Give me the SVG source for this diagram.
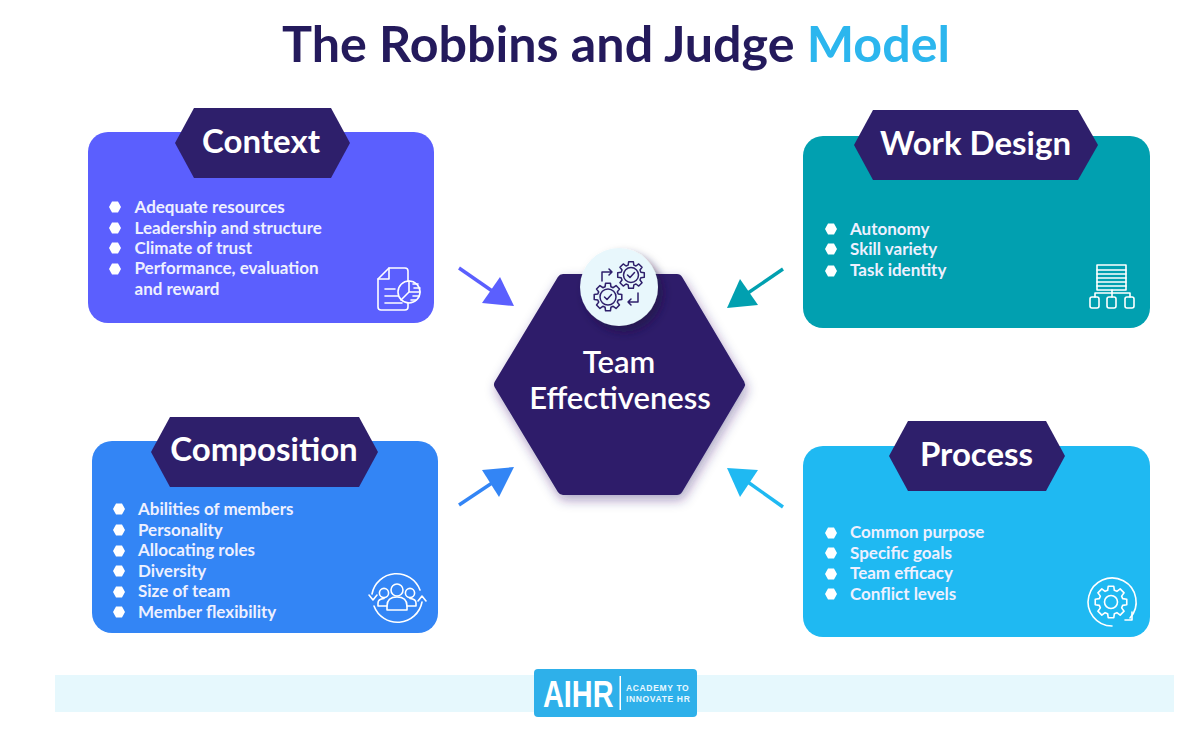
<svg xmlns="http://www.w3.org/2000/svg" xmlns:xlink="http://www.w3.org/1999/xlink" width="1200" height="756" viewBox="0 0 1200 756">
<style>
text{font-family:Lato,"Open Sans","Liberation Sans",sans-serif}
.title{font-size:50px;font-weight:700;fill:#241a5c}
.hd{font-size:33px;font-weight:700;fill:#fff;text-anchor:middle}
.li{font-size:17px;font-weight:700;fill:#eef0ff}
.mid{font-size:31px;font-weight:600;fill:#fff;text-anchor:middle}
.dark{fill:#2e1f6b}
.ic{fill:none;stroke:#fff;stroke-width:1.6;stroke-linecap:round;stroke-linejoin:round}
.ic2{fill:none;stroke:#2e1f6b;stroke-width:1.5;stroke-linecap:round;stroke-linejoin:round}
.ln{fill:none;stroke-width:3.4}
.logo{font-weight:700;fill:#e8f8ff;letter-spacing:.65px}
</style>
<defs>
<polygon id="b" points="-6,0 -3,-5.500 3,-5.500 6,0 3,5.500 -3,5.500" fill="#fff"/>
<polygon id="gear" points="98.5,-17.4 98.5,17.4 73,21 66.5,36.8 81.9,57.4 57.4,81.9 36.8,66.5 21,73 17.4,98.5 -17.4,98.5 -21,73 -36.8,66.5 -57.4,81.9 -81.9,57.4 -66.5,36.8 -73,21 -98.5,17.4 -98.5,-17.4 -73,-21 -66.5,-36.8 -81.9,-57.4 -57.4,-81.9 -36.8,-66.5 -21,-73 -17.4,-98.5 17.4,-98.5 21,-73 36.8,-66.5 57.4,-81.9 81.9,-57.4 66.5,-36.8 73,-21" stroke-linejoin="round"/>
<filter id="sh" x="-20%" y="-20%" width="140%" height="140%"><feDropShadow dx="2" dy="5" stdDeviation="6" flood-color="#2e1f6b" flood-opacity=".4"/></filter>
<filter id="sh2" x="-40%" y="-40%" width="180%" height="180%"><feDropShadow dx="5" dy="6" stdDeviation="5" flood-color="#1a1040" flood-opacity=".6"/></filter>
</defs>
<rect width="1200" height="756" fill="#fff"/>

<text id="title" class="title" x="282" y="62" textLength="668" lengthAdjust="spacingAndGlyphs">The Robbins and Judge <tspan fill="#2cb6ee">Model</tspan></text>

<g id="connectors">
<g id="arrow-context"><path class="ln" stroke="#5b5ffe" d="M459 268L498 295"/><polygon fill="#5b5ffe" points="514,306 482,303 500,277"/></g>
<g id="arrow-work"><path class="ln" stroke="#01a0b0" d="M783 269L745 295"/><polygon fill="#01a0b0" points="727,308 758,305 740,279"/></g>
<g id="arrow-composition"><path class="ln" stroke="#3385f5" d="M459 505L498 479"/><polygon fill="#3385f5" points="514,467 482,470 499,497"/></g>
<g id="arrow-process"><path class="ln" stroke="#1fb9f2" d="M783 507L745 480"/><polygon fill="#1fb9f2" points="727,468 758,470 740,497"/></g>
</g>

<g id="node-context">
<rect x="88" y="132" width="346" height="191" rx="20" fill="#5b5ffe"/>
<polygon class="dark" points="175,143 194,108 331,108 350,143 331,178 194,178"/>
<text class="hd" x="261" y="153">Context</text>
<use xlink:href="#b" href="#b" x="115" y="207"/><use xlink:href="#b" href="#b" x="115" y="228"/><use xlink:href="#b" href="#b" x="115" y="248"/><use xlink:href="#b" href="#b" x="115" y="269"/>
<text class="li" x="134.500" y="213">Adequate resources</text>
<text class="li" x="134.500" y="233.500">Leadership and structure</text>
<text class="li" x="134.500" y="254">Climate of trust</text>
<text class="li" x="134.500" y="274">Performance, evaluation</text>
<text class="li" x="134.500" y="295">and reward</text>
<g class="ic">
<path d="M408 281V271Q408 268 405 268H389L378 279V307Q378 310 381 310H405Q408 310 408 307V303"/>
<path d="M389 268V279H378M385 289H395M385 296H398M385 303H402"/>
<circle cx="409" cy="292" r="11"/>
<path d="M409 281V292H420M409 292L401 300M413 284H418M414 288H420M413 296H419M411 300H416"/>
</g>
</g>

<g id="node-work-design">
<rect x="803" y="136" width="347" height="192" rx="20" fill="#01a0b0"/>
<polygon class="dark" points="854,145 873,110 1078,110 1098,145 1078,180 873,180"/>
<text class="hd" x="975.500" y="155">Work Design</text>
<use xlink:href="#b" href="#b" x="831" y="229"/><use xlink:href="#b" href="#b" x="831" y="249"/><use xlink:href="#b" href="#b" x="831" y="271"/>
<text class="li" x="850" y="235">Autonomy</text>
<text class="li" x="850" y="255">Skill variety</text>
<text class="li" x="850" y="275.500">Task identity</text>
<g class="ic">
<rect x="1097" y="265" width="29" height="25"/>
<path d="M1097 270H1126M1097 274H1126M1097 278H1126M1097 282H1126M1097 286H1126"/>
<path d="M1112 290V297M1095 297V293H1130V297"/>
<rect x="1090" y="297" width="9" height="11" rx="2"/><rect x="1107" y="297" width="9" height="11" rx="2"/><rect x="1125" y="297" width="9" height="11" rx="2"/>
</g>
</g>

<g id="node-composition">
<rect x="92" y="441" width="346" height="192" rx="20" fill="#3385f5"/>
<polygon class="dark" points="151,452 170,417 359,417 378,452 359,487 170,487"/>
<text class="hd" x="264" y="461">Composition</text>
<use xlink:href="#b" href="#b" x="119" y="509"/><use xlink:href="#b" href="#b" x="119" y="530"/><use xlink:href="#b" href="#b" x="119" y="551"/><use xlink:href="#b" href="#b" x="119" y="571"/><use xlink:href="#b" href="#b" x="119" y="592"/><use xlink:href="#b" href="#b" x="119" y="612"/>
<text class="li" x="138" y="515">Abilities of members</text>
<text class="li" x="138" y="535.500">Personality</text>
<text class="li" x="138" y="556">Allocating roles</text>
<text class="li" x="138" y="576.500">Diversity</text>
<text class="li" x="138" y="597">Size of team</text>
<text class="li" x="138" y="617.500">Member flexibility</text>
<g class="ic">
<path d="M372 594A25 25 0 0 1 420 590M422 602A25 25 0 0 1 374 606"/>
<path d="M369 595L373 600L377 595M418 601L422 596L426 601"/>
<circle cx="397" cy="590" r="6"/><circle cx="384" cy="593" r="4.600"/><circle cx="410" cy="593" r="4.600"/>
<path d="M387 610V606Q387 597 397 597Q407 597 407 606V610Z"/>
<path d="M387 606H378V603Q378 599 384 598.500M407 606H416V603Q416 599 410 598.500"/>
</g>
</g>

<g id="node-process">
<rect x="803" y="446" width="347" height="191" rx="20" fill="#1fb9f2"/>
<polygon class="dark" points="889,456 908,421 1046,421 1065,456 1046,491 908,491"/>
<text class="hd" x="976.500" y="465.500">Process</text>
<use xlink:href="#b" href="#b" x="831" y="533"/><use xlink:href="#b" href="#b" x="831" y="553"/><use xlink:href="#b" href="#b" x="831" y="574"/><use xlink:href="#b" href="#b" x="831" y="594"/>
<text class="li" x="850" y="538">Common purpose</text>
<text class="li" x="850" y="558.500">Specific goals</text>
<text class="li" x="850" y="579">Team efficacy</text>
<text class="li" x="850" y="599.500">Conflict levels</text>
<g class="ic">
<path d="M1130 618A24 24 0 1 0 1112 626"/>
<path d="M1125 620H1132V612"/>
<use xlink:href="#gear" href="#gear" transform="translate(1111 602) scale(.16)" style="stroke-width:10"/>
<circle cx="1111" cy="602" r="6.500"/>
</g>
</g>

<g id="node-team-effectiveness">
<path class="dark" stroke="#2e1f6b" stroke-width="12" stroke-linejoin="round" filter="url(#sh)" d="M500 384.500L563 280H677L739 384.500L677 489H563Z"/>
<circle cx="619" cy="287" r="39" fill="#e8f7fc" filter="url(#sh2)"/>
<g class="ic2">
<use xlink:href="#gear" href="#gear" transform="translate(631 275) scale(.135)" style="stroke-width:11"/>
<circle cx="631" cy="275" r="7.500"/>
<path d="M627.500 275L630 277.500L634.500 272.500"/>
<use xlink:href="#gear" href="#gear" transform="translate(608 297) scale(.14)" style="stroke-width:11"/>
<circle cx="608" cy="297" r="8"/>
<path d="M604.500 297L607 299.500L611.500 294.500"/>
<path d="M602 281V272H612M609 269L612 272L609 275"/>
<path d="M638 293V302H628M631 299L628 302L631 305"/>
</g>
<text class="mid" x="619" y="372.500">Team</text>
<text class="mid" x="620" y="408.500">Effectiveness</text>
</g>

<g id="footer">
<rect x="55" y="675" width="1119" height="37" fill="#e6f8fd"/>
<rect x="534" y="669" width="163" height="48" rx="4" fill="#2eb0ea"/>
<text transform="translate(543 707) scale(.78 1)" x="0" y="0" font-size="37" font-weight="700" fill="#fff" style="font-family:'Liberation Sans',sans-serif">AIHR</text>
<rect x="619.500" y="676" width="1.500" height="34" fill="#fff"/>
<text class="logo" x="626" y="691" font-size="8.500" style="font-family:'Liberation Sans',sans-serif">ACADEMY TO</text>
<text class="logo" x="626" y="702" font-size="8.500" style="font-family:'Liberation Sans',sans-serif">INNOVATE HR</text>
</g>
</svg>
